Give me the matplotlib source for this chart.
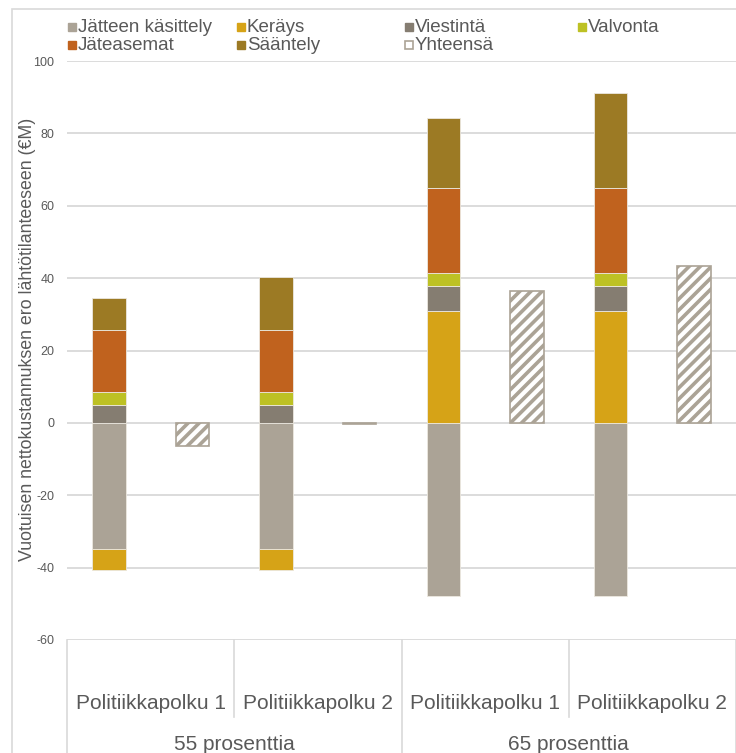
import matplotlib
matplotlib.use("Agg")
import matplotlib.pyplot as plt
from matplotlib.patches import Rectangle
import numpy as np

plt.rcParams['font.family'] = ['Liberation Sans', 'DejaVu Sans']
plt.rcParams['hatch.linewidth'] = 2.6
plt.rcParams['axes.unicode_minus'] = False

# data
categories = ['Politiikkapolku 1', 'Politiikkapolku 2', 'Politiikkapolku 1', 'Politiikkapolku 2']
groups = ['55 prosenttia', '65 prosenttia']
series_names = ['Jätteen käsittely', 'Keräys', 'Viestintä', 'Valvonta', 'Jäteasemat', 'Sääntely']
jatteen_kasittely = [-34.9, -34.9, -47.8, -47.8]
kerays = [-5.8, -5.8, 30.9, 30.9]
viestinta = [4.9, 4.9, 6.8, 6.8]
valvonta = [3.7, 3.7, 3.6, 3.6]
jateasemat = [17.0, 17.0, 23.7, 23.7]
saantely = [8.8, 14.7, 19.3, 26.1]
yhteensa = [-6.3, -0.4, 36.5, 43.3]

colors = ['#aba396', '#d6a317', '#857d71', '#bdc124', '#c0621e', '#9c7a24']
total_col = '#aba396'
txt_col = '#595959'
grid_col = '#d9d9d9'

fig = plt.figure(figsize=(7.36, 7.53), dpi=100)
ax = fig.add_axes([67/736, 1 - 640/753, 1 - 67/736, 579/753])

x = np.arange(len(categories))
w = 0.2
pos_base = np.zeros(len(x))
neg_base = np.zeros(len(x))
all_series = [jatteen_kasittely, kerays, viestinta, valvonta, jateasemat, saantely]
for vals, c in zip(all_series, colors):
    vals = np.array(vals)
    base = np.where(vals >= 0, pos_base, neg_base)
    ax.bar(x - 0.25, vals, w, bottom=base, color=c, edgecolor='#ece8e0',
           linewidth=0.6, zorder=3)
    pos_base = pos_base + np.where(vals >= 0, vals, 0)
    neg_base = neg_base + np.where(vals < 0, vals, 0)

ax.bar(x + 0.25, yhteensa, w, color='white', edgecolor=total_col,
       hatch='///', linewidth=1.2, zorder=3)

ax.set_xlim(-0.5, 3.5)
ax.set_ylim(-60, 100)
ax.set_yticks(range(-60, 101, 20))
ax.tick_params(axis='y', length=0, pad=9, labelsize=9, labelcolor=txt_col)
ax.set_xticks([])
ax.yaxis.grid(True, color=grid_col, linewidth=1.3, zorder=0)
ax.set_axisbelow(True)
for s in ax.spines.values():
    s.set_visible(False)
ax.set_ylabel('Vuotuisen nettokustannuksen ero lähtötilanteeseen (€M)',
              fontsize=12.8, color=txt_col)
ax.yaxis.set_label_coords(-0.046, 0.52)

# two level category axis
trans = ax.get_xaxis_transform()
for i, cat in enumerate(categories):
    ax.text(i, -0.109, cat, transform=trans, ha='center', va='center',
            fontsize=15, color=txt_col)
for i, g in enumerate(groups):
    ax.text(2 * i + 0.5, -0.181, g, transform=trans, ha='center', va='center',
            fontsize=15, color=txt_col)
for xv in [0.5, 2.5]:
    ax.plot([xv, xv], [0, -0.133], transform=trans, color=grid_col,
            linewidth=1.2, clip_on=False)
for xv in [-0.5, 1.5, 3.5]:
    ax.plot([xv, xv], [0, -0.25], transform=trans, color=grid_col,
            linewidth=1.2, clip_on=False)

# legend, laid out like the original
leg_items = list(zip(series_names, colors))
leg_pos = [(68, 27), (237, 27), (405, 27), (578, 27), (68, 45), (237, 45)]
for (name, c), (px, py) in zip(leg_items, leg_pos):
    fig.patches.append(Rectangle((px / 736, 1 - (py + 4) / 753), 8 / 736, 8 / 753,
                                 transform=fig.transFigure, color=c))
    fig.text((px + 10) / 736, 1 - py / 753, name, fontsize=13.5,
             color=txt_col, va='center', ha='left')
fig.patches.append(Rectangle((405 / 736, 1 - 49 / 753), 8 / 736, 8 / 753,
                             transform=fig.transFigure, facecolor='white',
                             edgecolor=total_col, linewidth=1.2))
fig.text(415 / 736, 1 - 45 / 753, 'Yhteensä', fontsize=13.5,
         color=txt_col, va='center', ha='left')

# chart frame
fig.patches.append(Rectangle((12 / 736, -0.05), 1.1, 1 - 9 / 753 + 0.05,
                             transform=fig.transFigure, fill=False,
                             edgecolor=grid_col, linewidth=1.2))

fig.savefig('out.png', dpi=100)
